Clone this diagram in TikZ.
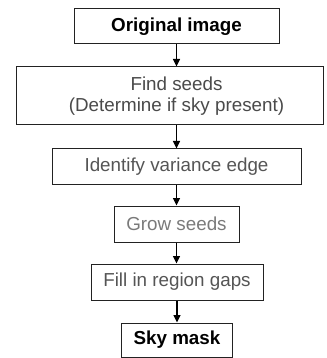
\documentclass[tikz,border=0pt]{standalone}
\usepackage{fontspec}
\setmainfont{Liberation Sans}
\usetikzlibrary{arrows.meta}
\definecolor{txtA}{HTML}{4A4A4A}
\definecolor{txtB}{HTML}{555555}
\definecolor{txtC}{HTML}{7A7A7A}
\definecolor{edge}{HTML}{222222}
\begin{document}
\begin{tikzpicture}[x=1pt,y=-1pt,
  box/.style={draw=edge,line width=1pt,inner sep=0pt,fill=white},
  txt/.style={font=\fontsize{18.8}{21}\selectfont,align=center,inner sep=0pt},
  btxt/.style={font=\fontsize{18.8}{21}\selectfont\bfseries,inner sep=0pt},
  arr/.style={draw=black,line width=1.1pt,-{Triangle[length=7.5pt,width=7pt]}}]
\useasboundingbox (0,0) rectangle (326,358);
\node[box,minimum width=205,minimum height=35] (orig) at (176.5,26.5) {};
\node[btxt] (origt) at (orig.center) {Original image};
\node[box,minimum width=307,minimum height=58] (find) at (170,96) {};
\node[txt,text=txtA] (findt) at (176.5,96) {Find seeds\\(Determine if sky present)};
\node[box,minimum width=249,minimum height=35] (ident) at (176.5,166.5) {};
\node[txt,text=txtB] (identt) at (ident.center) {Identify variance edge};
\node[box,minimum width=125,minimum height=36] (grow) at (176.5,224) {};
\node[txt,text=txtC] (growt) at (grow.center) {Grow seeds};
\node[box,minimum width=172,minimum height=36] (fill) at (177,282) {};
\node[txt,text=txtB] (fillt) at (fill.center) {Fill in region gaps};
\node[box,minimum width=111,minimum height=34] (sky) at (177,340) {};
\node[btxt] (skyt) at (sky.center) {Sky mask};
\draw[arr] (orig.south) -- (orig.south |- find.north);
\draw[arr] (ident.north |- find.south) -- (ident.north);
\draw[arr] (ident.south) -- (grow.north);
\draw[arr] (grow.south) -- (grow.south |- fill.north);
\draw[arr] (fill.south) -- (sky.north);
\end{tikzpicture}
\end{document}
